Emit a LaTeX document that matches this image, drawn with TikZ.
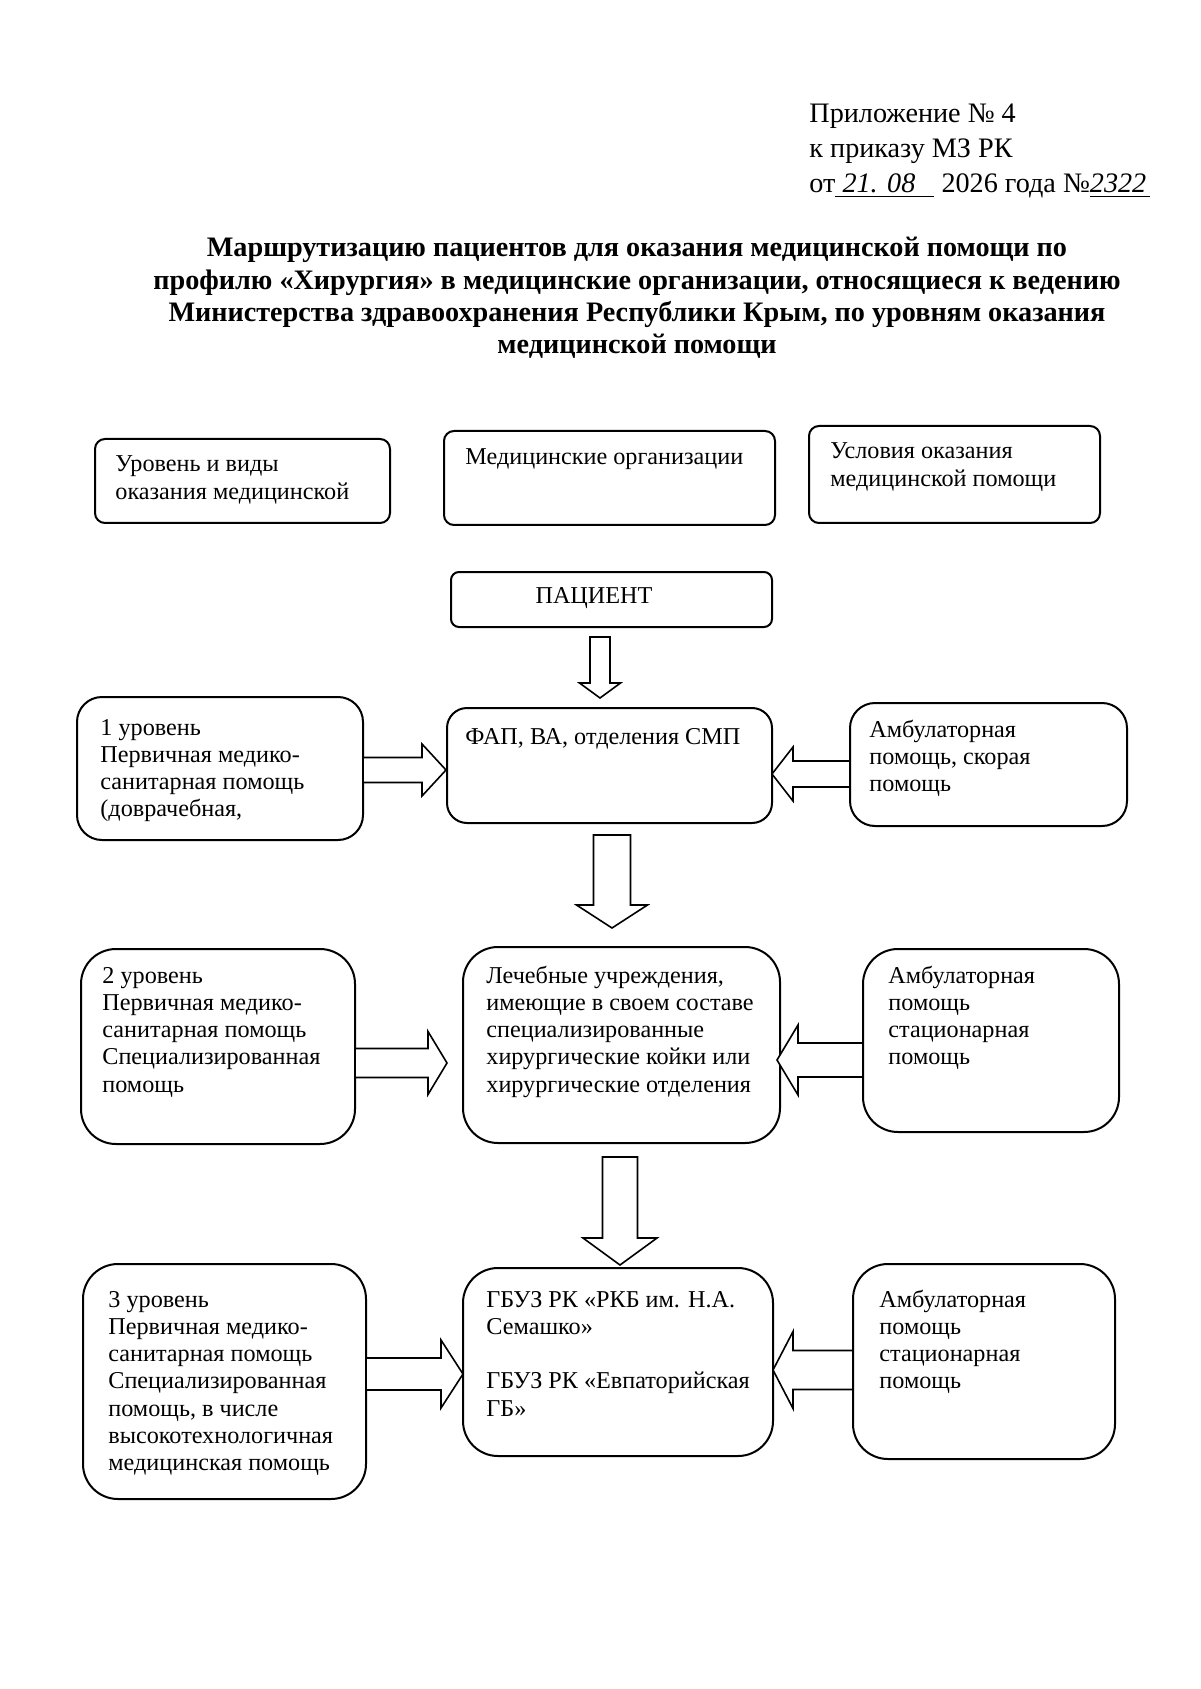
\documentclass[tikz,border=0pt]{standalone}
\usepackage{fontspec}
\setmainfont{Liberation Serif}
\newcommand{\blkdown}[6]{% cx, shaft half, top, head base, head half, tip
  \draw[barrow] ({#1-#2},#3) -- ({#1+#2},#3) -- ({#1+#2},#4) -- ({#1+#5},#4) -- (#1,#6) -- ({#1-#5},#4) -- ({#1-#2},#4) -- cycle;}
\newcommand{\blkhoriz}[6]{% cy, shaft half, start x, head base x, head half, tip x
  \draw[barrow] (#3,{#1-#2}) -- (#4,{#1-#2}) -- (#4,{#1-#5}) -- (#6,#1) -- (#4,{#1+#5}) -- (#4,{#1+#2}) -- (#3,{#1+#2}) -- cycle;}
\begin{document}
\begin{tikzpicture}[x=0.5pt,y=-0.5pt,
  box/.style={draw, line width=1pt, rectangle, inner sep=0pt},
  txt/.style={anchor=base west, inner sep=0pt, font=\fontsize{12.1}{13.65}\selectfont},
  barrow/.style={draw, line width=0.8pt, fill=white, line join=miter}]
\fill[white] (0,0) rectangle (1200,1689);
\useasboundingbox (0,0) rectangle (1200,1689);

% header
\node[anchor=base west, inner sep=0pt, font=\fontsize{14.1}{17.5}\selectfont] (hdr) at (809,123)
  {\begin{tabular}[t]{@{}l@{}}Приложение № 4\\ к приказу МЗ РК\\
   от\underline{\makebox[49.5pt][l]{\itshape\ 21.\,\,08}}\ 2026 года №\underline{\makebox[30pt][l]{\itshape 2322}}\end{tabular}};

% title
\node[anchor=base, inner sep=0pt, font=\fontsize{14.1}{16.15}\selectfont\bfseries] (title) at (637,257)
  {\begin{tabular}[t]{@{}c@{}}Маршрутизацию пациентов для оказания медицинской помощи по\\
   профилю «Хирургия» в медицинские организации, относящиеся к ведению\\
   Министерства здравоохранения Республики Крым, по уровням оказания\\
   медицинской помощи\end{tabular}};

% top row
\node[box, rounded corners=5pt, minimum width=147.5pt, minimum height=42pt] (A) at (242.5,481) {};
\node[txt] (At) at (115,472) {\begin{tabular}[t]{@{}l@{}}Уровень и виды\\ оказания медицинской\end{tabular}};
\node[box, rounded corners=5pt, minimum width=165.5pt, minimum height=47pt] (B) at (609.5,478) {};
\node[txt] (Bt) at (465,465) {Медицинские организации};
\node[box, rounded corners=5pt, minimum width=145.5pt, minimum height=48.5pt] (C) at (954.5,474.5) {};
\node[txt] (Ct) at (830,459) {\begin{tabular}[t]{@{}l@{}}Условия оказания\\ медицинской помощи\end{tabular}};

% patient
\node[box, rounded corners=4pt, minimum width=160.5pt, minimum height=27.5pt] (P) at (611.5,599.5) {};
\node[txt, anchor=base] (Pt) at (594,603) {ПАЦИЕНТ};

% row 1
\node[box, rounded corners=12.5pt, minimum width=143pt, minimum height=71.5pt] (L1) at (220,768.5) {};
\node[txt] (L1t) at (100,735) {\begin{tabular}[t]{@{}l@{}}1 уровень\\ Первичная медико-\\ санитарная помощь\\ (доврачебная,\end{tabular}};
\node[box, rounded corners=10pt, minimum width=162.5pt, minimum height=57.5pt] (M1) at (609.5,765.5) {};
\node[txt] (M1t) at (465,744) {ФАП, ВА, отделения СМП};
\node[box, rounded corners=12.5pt, minimum width=138.5pt, minimum height=61.5pt] (R1) at (988.5,764.5) {};
\node[txt] (R1t) at (869,737) {\begin{tabular}[t]{@{}l@{}}Амбулаторная\\ помощь, скорая\\ помощь\end{tabular}};

% row 2
\node[box, rounded corners=17.5pt, minimum width=137pt, minimum height=97.5pt] (L2) at (218,1046.5) {};
\node[txt] (L2t) at (102,983) {\begin{tabular}[t]{@{}l@{}}2 уровень\\ Первичная медико-\\ санитарная помощь\\ Специализированная\\ помощь\end{tabular}};
\node[box, rounded corners=17.5pt, minimum width=158.5pt, minimum height=98pt] (M2) at (621.5,1045) {};
\node[txt] (M2t) at (486,983) {\begin{tabular}[t]{@{}l@{}}Лечебные учреждения,\\ имеющие в своем составе\\ специализированные\\ хирургические койки или\\ хирургические отделения\end{tabular}};
\node[box, rounded corners=17.5pt, minimum width=128pt, minimum height=91.5pt] (R2) at (991,1040.5) {};
\node[txt] (R2t) at (888,983) {\begin{tabular}[t]{@{}l@{}}Амбулаторная\\ помощь\\ стационарная\\ помощь\end{tabular}};

% row 3
\node[box, rounded corners=17.5pt, minimum width=141.5pt, minimum height=117.5pt] (L3) at (224.5,1381.5) {};
\node[txt] (L3t) at (108,1307) {\begin{tabular}[t]{@{}l@{}}3 уровень\\ Первичная медико-\\ санитарная помощь\\ Специализированная\\ помощь, в числе\\ высокотехнологичная\\ медицинская помощь\end{tabular}};
\node[box, rounded corners=17.5pt, minimum width=155pt, minimum height=94pt] (M3) at (618,1362) {};
\node[txt] (M3t) at (486,1307) {\begin{tabular}[t]{@{}l@{}}ГБУЗ РК «РКБ им. Н.А.\\ Семашко»\\ \\ ГБУЗ РК «Евпаторийская\\ ГБ»\end{tabular}};
\node[box, rounded corners=17.5pt, minimum width=131pt, minimum height=97.5pt] (R3) at (984,1361.5) {};
\node[txt] (R3t) at (879,1307) {\begin{tabular}[t]{@{}l@{}}Амбулаторная\\ помощь\\ стационарная\\ помощь\end{tabular}};

% block arrows down
\blkdown{600}{10}{637}{683}{20.5}{698}
\blkdown{612}{18.5}{835}{905}{35.5}{928}
\blkdown{620}{17.5}{1157}{1238}{37}{1265}
% block arrows from left boxes
\blkhoriz{770}{12.5}{363}{422}{26}{446}
\blkhoriz{1063}{14.5}{355}{428}{31.5}{447}
\blkhoriz{1374}{16}{366}{441}{34}{463}
% block arrows from right boxes
\blkhoriz{774}{13}{850}{793}{27}{772}
\blkhoriz{1060}{17}{863}{798}{35}{777}
\blkhoriz{1370}{19.5}{853}{793}{38.5}{773}
\end{tikzpicture}
\end{document}
